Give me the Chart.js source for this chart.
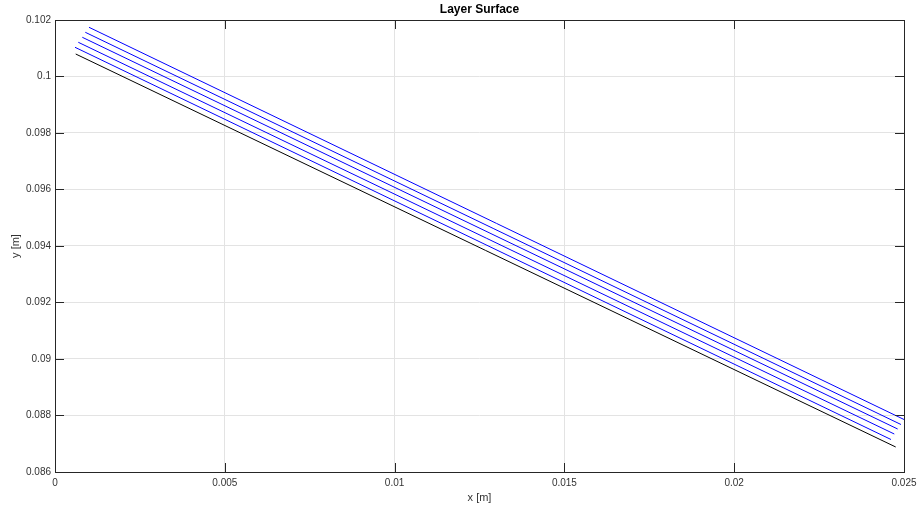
<!DOCTYPE html>
<html>
<head>
<meta charset="utf-8">
<script src="https://cdn.jsdelivr.net/npm/chart.js@4"></script>
<style>
  html, body { margin: 0; padding: 0; background: #fff; }
  #wrap { width: 917px; height: 509px; }
</style>
</head>
<body>
<div id="wrap"><canvas id="chart" width="917" height="509"></canvas></div>
<script>
// surface lines (start and end point of each)
const blackX = [0.000610, 0.024756];
const blackY = [0.100796, 0.086885];

const blueX = [
  [0.000589, 0.024617],
  [0.000686, 0.024714],
  [0.000804, 0.024814],
  [0.000892, 0.024911],
  [0.001001, 0.025000],
];
const blueY = [
  [0.101034, 0.087150],
  [0.101211, 0.087345],
  [0.101388, 0.087522],
  [0.101565, 0.087681],
  [0.101742, 0.087858],
];

const xTicks = [0, 0.005, 0.01, 0.015, 0.02, 0.025];
const xLabels = ["0", "0.005", "0.01", "0.015", "0.02", "0.025"];
const yTicks = [0.086, 0.088, 0.09, 0.092, 0.094, 0.096, 0.098, 0.1, 0.102];
const yLabels = ["0.086", "0.088", "0.09", "0.092", "0.094", "0.096", "0.098", "0.1", "0.102"];

const FONT = "'Liberation Sans', Arial, Helvetica, sans-serif";

function toPoints(xs, ys) {
  return xs.map((x, i) => ({ x: x, y: ys[i] }));
}

const datasets = [];
datasets.push({
  data: toPoints(blackX, blackY),
  borderColor: "#000000",
  borderWidth: 1,
  pointRadius: 0,
  showLine: true,
});
blueX.forEach((xs, i) => {
  datasets.push({
    data: toPoints(xs, blueY[i]),
    borderColor: "#0000ff",
    borderWidth: 1,
    pointRadius: 0,
    showLine: true,
  });
});

// matlab style box with inward ticks on all four sides
const boxPlugin = {
  id: "box",
  afterDatasetsDraw(chart) {
    const { ctx, chartArea: a, scales } = chart;
    ctx.save();
    ctx.strokeStyle = "#262626";
    ctx.lineWidth = 1;
    ctx.beginPath();
    const len = 9;
    scales.x.ticks.forEach((t) => {
      const px = Math.round(scales.x.getPixelForValue(t.value)) + 0.5;
      ctx.moveTo(px, a.bottom);
      ctx.lineTo(px, a.bottom - len);
      ctx.moveTo(px, a.top);
      ctx.lineTo(px, a.top + len);
    });
    scales.y.ticks.forEach((t) => {
      const py = Math.round(scales.y.getPixelForValue(t.value)) + 0.5;
      ctx.moveTo(a.left, py);
      ctx.lineTo(a.left + len, py);
      ctx.moveTo(a.right, py);
      ctx.lineTo(a.right - len, py);
    });
    ctx.stroke();
    ctx.strokeRect(Math.round(a.left) + 0.5, Math.round(a.top) + 0.5,
      Math.round(a.right - a.left), Math.round(a.bottom - a.top));
    ctx.restore();
  },
};

new Chart(document.getElementById("chart"), {
  type: "scatter",
  data: { datasets: datasets },
  plugins: [boxPlugin],
  options: {
    responsive: false,
    animation: false,
    devicePixelRatio: 1,
    layout: { padding: { left: 0, right: 13, top: 0, bottom: 0 } },
    plugins: {
      legend: { display: false },
      tooltip: { enabled: false },
      title: {
        display: true,
        fullSize: false,
        text: "Layer Surface",
        color: "#000",
        font: { family: FONT, size: 12, weight: "bold" },
        padding: { top: 2, bottom: 3.6 },
      },
    },
    scales: {
      x: {
        type: "linear",
        min: 0,
        max: 0.025,
        afterBuildTicks: (s) => { s.ticks = xTicks.map((v) => ({ value: v })); },
        afterFit: (s) => { s.height = 37; s.paddingLeft = 0; s.paddingRight = 0; },
        ticks: {
          padding: 5,
          color: "#333",
          font: { family: FONT, size: 10 },
          maxRotation: 0,
          callback: (v, i) => xLabels[i],
        },
        grid: { color: "#e3e3e3", drawTicks: false },
        border: { display: false },
        title: {
          display: true,
          text: "x [m]",
          color: "#333",
          font: { family: FONT, size: 11 },
          padding: { top: 0, bottom: 4 },
        },
      },
      y: {
        type: "linear",
        min: 0.086,
        max: 0.102,
        afterBuildTicks: (s) => { s.ticks = yTicks.map((v) => ({ value: v })); },
        afterFit: (s) => { s.width = 55; s.paddingTop = 0; s.paddingBottom = 0; },
        ticks: {
          padding: 4,
          color: "#333",
          font: { family: FONT, size: 10 },
          callback: (v, i) => yLabels[i],
        },
        grid: { color: "#e3e3e3", drawTicks: false },
        border: { display: false },
        title: {
          display: true,
          text: "y [m]",
          color: "#333",
          font: { family: FONT, size: 11 },
          padding: { top: 9, bottom: 0 },
        },
      },
    },
  },
});
</script>
</body>
</html>
